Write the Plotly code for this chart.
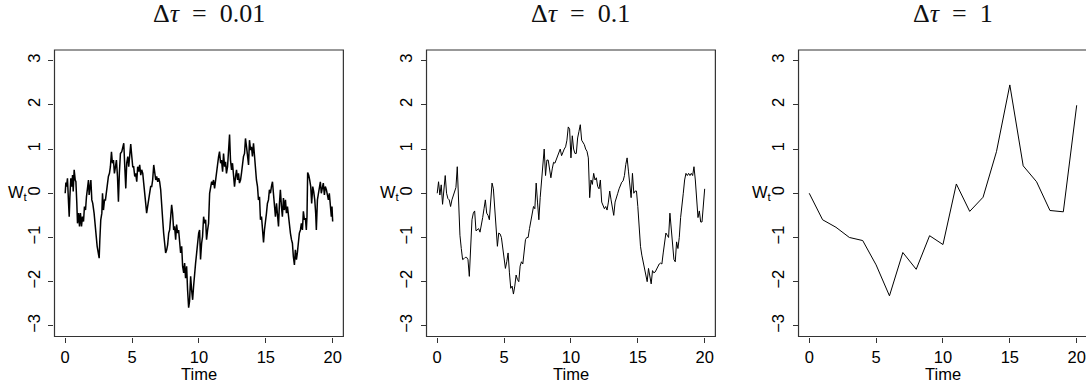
import plotly.graph_objects as go
import numpy as np

# ---------------- data ----------------
titles = ["Δ<i>τ</i>\u2002=\u20020.01", "Δ<i>τ</i>\u2002=\u20020.1", "Δ<i>τ</i>\u2002=\u20021"]
x_ticks = [0, 5, 10, 15, 20]
y_ticks = [-3, -2, -1, 0, 1, 2, 3]
y_tick_text = ["−3", "−2", "−1", "0", "1", "2", "3"]

# panel 1: dt = 0.01 (traced vertices)
time1 = [0.00, 0.05, 0.10, 0.17, 0.25, 0.30, 0.35, 0.42, 0.50, 0.55, 0.60, 0.67, 0.75, 0.80, 0.87, 0.92,
         1.00, 1.07, 1.14, 1.22, 1.29, 1.37, 1.44, 1.52, 1.59, 1.67, 1.74, 1.79, 1.84, 1.92, 1.99,
         2.06, 2.16, 2.24, 2.31, 2.39, 2.46, 2.54, 2.59, 2.66, 2.74, 2.79, 2.86, 2.94,
         3.01, 3.08, 3.16, 3.23, 3.31, 3.38, 3.46, 3.53, 3.61, 3.68, 3.76, 3.83, 3.91, 3.98,
         4.05, 4.13, 4.23, 4.30, 4.38, 4.45, 4.53, 4.60, 4.68, 4.75, 4.83, 4.90, 4.98,
         5.05, 5.12, 5.20, 5.27, 5.35, 5.42, 5.50, 5.57, 5.65, 5.72, 5.80, 5.87, 5.95,
         6.02, 6.09, 6.17, 6.24, 6.32, 6.39, 6.47, 6.54, 6.62, 6.69, 6.77, 6.84, 6.92, 6.99,
         7.06, 7.14, 7.21, 7.29, 7.36, 7.44, 7.51, 7.59, 7.66, 7.74, 7.81, 7.89, 7.96,
         8.03, 8.11, 8.18, 8.26, 8.33, 8.41, 8.48, 8.56, 8.63, 8.71, 8.78, 8.86, 8.93,
         9.00, 9.08, 9.15, 9.23, 9.30, 9.38, 9.45, 9.53, 9.60, 9.68, 9.75, 9.83, 9.90, 9.98,
         10.05, 10.12, 10.20, 10.27, 10.35, 10.42, 10.50, 10.57, 10.65, 10.72, 10.80, 10.87, 10.95,
         11.02, 11.09, 11.17, 11.24, 11.32, 11.39, 11.47, 11.54, 11.62, 11.69, 11.77, 11.84, 11.92, 11.99,
         12.06, 12.14, 12.21, 12.29, 12.36, 12.44, 12.51, 12.59, 12.66, 12.74, 12.81, 12.89, 12.96,
         13.03, 13.11, 13.18, 13.26, 13.33, 13.41, 13.48, 13.56, 13.63, 13.71, 13.78, 13.86, 13.93,
         14.00, 14.08, 14.15, 14.23, 14.30, 14.38, 14.45, 14.53, 14.60, 14.68, 14.75, 14.83, 14.90, 14.98,
         15.05, 15.12, 15.20, 15.27, 15.35, 15.42, 15.50, 15.57, 15.65, 15.72, 15.80, 15.87, 15.95,
         16.02, 16.09, 16.17, 16.24, 16.32, 16.39, 16.47, 16.54, 16.62, 16.69, 16.77, 16.84, 16.92, 16.99,
         17.06, 17.14, 17.21, 17.29, 17.36, 17.44, 17.51, 17.59, 17.66, 17.74, 17.81, 17.89, 17.96,
         18.03, 18.08, 18.13, 18.21, 18.28, 18.36, 18.43, 18.51, 18.58, 18.66, 18.73, 18.78, 18.86, 18.93,
         19.01, 19.08, 19.15, 19.23, 19.30, 19.38, 19.45, 19.53, 19.60, 19.68, 19.75, 19.83, 19.90, 19.95, 20.00]
w1 = [0.00, 0.24, 0.15, 0.34, -0.22, -0.53, -0.08, 0.34, 0.15, 0.41, 0.04, 0.53, 0.30, 0.26, -0.23, -0.68,
      -0.45, -0.75, -0.45, -0.75, -0.53, -0.64, -0.30, -0.38, -0.08, 0.08, 0.30, -0.04, 0.08, 0.30, -0.15,
      -0.23, -0.45, -0.83, -0.94, -1.20, -1.39, -1.47, -1.05, -0.60, -0.45, 0.00, -0.38, -0.15,
      -0.15, 0.00, 0.26, 0.38, 0.45, 0.60, 0.94, 0.68, 0.75, 0.45, 0.60, 0.75, 0.38, -0.19,
      0.45, 0.90, 0.94, 1.05, 1.13, 0.64, 0.11, 0.68, 0.83, 0.60, 0.86, 1.11, 0.83,
      0.60, 0.60, 0.38, 0.45, 0.26, 0.60, 0.49, 0.64, 0.41, 0.53, 0.45, 0.23, -0.15,
      -0.23, -0.45, -0.26, -0.15, 0.00, 0.15, 0.15, 0.30, 0.64, 0.45, 0.30, 0.38, 0.26, 0.34,
      0.26, 0.08, -0.15, -0.60, -0.90, -1.20, -1.35, -1.28, -1.17, -0.90, -0.83, -0.53, -0.26,
      -0.45, -0.83, -0.75, -1.05, -0.71, -0.90, -0.83, -1.05, -1.35, -1.20, -1.65, -1.80, -1.58,
      -1.92, -1.65, -2.18, -2.59, -2.44, -1.88, -2.18, -2.41, -2.11, -1.73, -1.58, -1.35, -1.05, -0.90,
      -0.83, -1.50, -1.13, -0.98, -0.53, -0.68, -0.60, -1.05, -0.83, -0.68, 0.00, 0.11, 0.26,
      0.19, 0.30, 0.11, 0.30, 0.45, 0.68, 0.83, 0.94, 0.68, 0.75, 0.49, 0.90, 0.60, 0.71,
      0.45, 0.60, 1.05, 1.33, 0.75, 0.53, 0.68, 0.38, 0.15, 0.38, 0.53, 0.30, 0.45,
      0.23, 0.30, 0.45, 0.68, 0.83, 0.90, 1.24, 1.05, 0.75, 0.64, 1.20, 0.98, 1.05,
      0.83, 1.13, 0.83, 0.38, 0.30, 0.15, -0.15, -0.08, -0.60, -0.53, -0.90, -1.11, -0.83, -0.53,
      -0.45, -0.23, -0.15, 0.08, 0.00, 0.15, 0.26, 0.00, -0.30, -0.53, -0.23, -0.45, -0.75,
      -0.23, 0.08, -0.30, -0.53, -0.11, -0.38, -0.15, -0.45, -0.30, -0.53, -0.75, -0.90, -1.05, -1.13,
      -1.43, -1.62, -1.28, -1.50, -1.35, -1.05, -0.90, -0.83, -0.68, -0.83, -0.41, -0.60, -0.56,
      -0.83, -0.53, 0.47, 0.41, 0.30, 0.15, -0.23, 0.15, 0.04, -0.15, -0.45, -0.83, -0.15, 0.00,
      0.15, 0.26, 0.00, 0.15, 0.23, -0.04, 0.15, 0.08, 0.00, -0.15, 0.00, -0.38, -0.53, -0.30, -0.64]

# panel 2: dt = 0.1 (t = 0.0, 0.1, ..., 20.0)
w2 = [0.00, 0.26, -0.04, 0.19, -0.25, 0.10, 0.40, 0.00, -0.12, -0.15,
      -0.30, -0.15, -0.05, 0.05, 0.13, 0.60, -0.30, -0.95, -1.25, -1.50,
      -1.48, -1.45, -1.45, -1.50, -1.88, -1.20, -0.60, -0.45, -0.40, -0.85,
      -0.82, -0.80, -0.88, -0.75, -0.55, -0.35, -0.15, -0.45, -0.50, -0.60,
      -0.20, 0.23, 0.10, -0.30, -0.75, -1.20, -0.90, -0.92, -1.00, -1.25,
      -1.50, -1.70, -1.55, -1.35, -1.80, -2.15, -2.10, -2.28, -2.10, -1.85,
      -1.95, -2.00, -1.65, -1.55, -1.60, -1.35, -1.05, -1.00, -1.00, -0.80,
      -0.60, -0.40, -0.30, -0.35, 0.23, -0.20, -0.60, -0.10, 0.30, 0.80,
      1.00, 0.40, 0.75, 0.75, 0.50, 0.35, 0.55, 0.70, 0.68, 0.75,
      0.85, 0.90, 1.00, 0.85, 0.95, 1.00, 1.05, 1.20, 1.50, 1.45,
      0.80, 1.30, 1.00, 0.90, 0.90, 1.25, 1.40, 1.55, 1.20, 1.15,
      1.10, 1.00, 0.95, 0.80, -0.10, 0.30, 0.20, 0.45, 0.30, 0.35,
      0.15, 0.10, 0.30, -0.20, -0.30, -0.35, -0.30, -0.38, -0.20, 0.05,
      -0.15, -0.35, -0.50, -0.20, -0.12, 0.00, 0.10, 0.18, 0.25, 0.28,
      0.40, 0.65, 0.80, 0.50, 0.10, -0.10, 0.45, 0.00, 0.05, 0.05,
      -0.30, -0.80, -1.20, -1.40, -1.55, -1.75, -1.90, -2.00, -1.70, -1.90,
      -2.05, -1.75, -1.80, -1.78, -1.72, -1.65, -1.60, -1.58, -1.60, -1.35,
      -1.10, -0.90, -0.95, -1.00, -0.45, -0.85, -1.20, -1.50, -1.55, -1.10,
      -1.25, -1.00, -0.55, -0.20, 0.00, 0.30, 0.45, 0.40, 0.45, 0.40,
      0.45, 0.40, 0.60, 0.30, -0.15, -0.55, -0.40, -0.65, -0.65, -0.22,
      0.10]
time2 = np.round(np.arange(len(w2)) * 0.1, 1)

# panel 3: dt = 1
time3 = [0, 1, 2, 3, 4, 5, 6, 7, 8, 9, 10, 11, 12, 13, 14, 15, 16, 17, 18, 19, 20]
w3 = [0.00, -0.60, -0.77, -1.00, -1.07, -1.62, -2.32, -1.34, -1.72, -0.96, -1.16,
      0.21, -0.41, -0.09, 0.94, 2.45, 0.62, 0.26, -0.39, -0.42, 1.99]

series = [(time1, w1), (time2, w2), (time3, w3)]

# ---------------- layout (pixels) ----------------
W, H = 1086, 387
BOX_W = 289.4
LEFTS = [54.6, 427.3, 800.0]
TOP, BOTTOM = 50.0, 336.5
X_RANGE = (-0.8, 20.8)
Y_RANGE = (-3.24, 3.24)

tick_font = dict(family="Liberation Sans, Arial, sans-serif", size=16.5, color="#000")
box_col = "#333333"

fig = go.Figure()
shapes, annotations = [], []
for i, ((tx, wy), left) in enumerate(zip(series, LEFTS)):
    n = "" if i == 0 else str(i + 1)
    right = left + BOX_W
    x_hi = X_RANGE[1]
    dom_right = right
    if right > W:
        dom_right = W
        x_hi = X_RANGE[0] + (W - left) / BOX_W * (X_RANGE[1] - X_RANGE[0])
    fig.add_trace(go.Scatter(x=tx, y=wy, mode="lines", xaxis="x" + n, yaxis="y" + n,
                             line=dict(color="black", width=1.5 if i == 0 else 1.0),
                             showlegend=False, hoverinfo="skip"))
    fig.layout["xaxis" + n] = dict(
        domain=[left / W, dom_right / W], range=[X_RANGE[0], x_hi], anchor="y" + n,
        tickvals=x_ticks, ticks="outside", ticklen=5, tickwidth=1, tickcolor=box_col,
        showgrid=False, zeroline=False, showline=False, tickfont=tick_font,
        ticklabelstandoff=1, ticklabeloverflow="allow")
    fig.layout["yaxis" + n] = dict(
        domain=[1 - BOTTOM / H, 1 - TOP / H], range=list(Y_RANGE), anchor="x" + n,
        tickvals=y_ticks, ticktext=y_tick_text, tickangle=-90,
        ticks="outside", ticklen=5, tickwidth=1, tickcolor=box_col,
        showgrid=False, zeroline=False, showline=False, tickfont=tick_font,
        ticklabelstandoff=2, ticklabeloverflow="allow")
    shapes.append(dict(type="rect", xref="paper", yref="paper",
                       x0=left / W, x1=right / W, y0=1 - BOTTOM / H, y1=1 - TOP / H,
                       line=dict(color=box_col, width=1.2), fillcolor="rgba(0,0,0,0)"))
    cx = (left + right) / 2
    annotations.append(dict(text=titles[i], xref="paper", yref="paper",
                            x=(cx + 10) / W, y=1 - 14 / H, xanchor="center", yanchor="middle",
                            showarrow=False,
                            font=dict(family="Liberation Serif, Times New Roman, serif", size=26, color="#111")))
    annotations.append(dict(text="Time", xref="paper", yref="paper",
                            x=cx / W, y=1 - 374 / H, xanchor="center", yanchor="middle",
                            showarrow=False, font=tick_font))
    annotations.append(dict(text="W<sub>t</sub>", xref="paper", yref="y" + n,
                            x=(left - 25) / W, y=0, xanchor="right", yanchor="middle",
                            showarrow=False, font=tick_font))

fig.update_layout(width=W, height=H, margin=dict(l=0, r=0, t=0, b=0),
                  paper_bgcolor="white", plot_bgcolor="white",
                  shapes=shapes, annotations=annotations, showlegend=False)
fig.write_html("out.html")
